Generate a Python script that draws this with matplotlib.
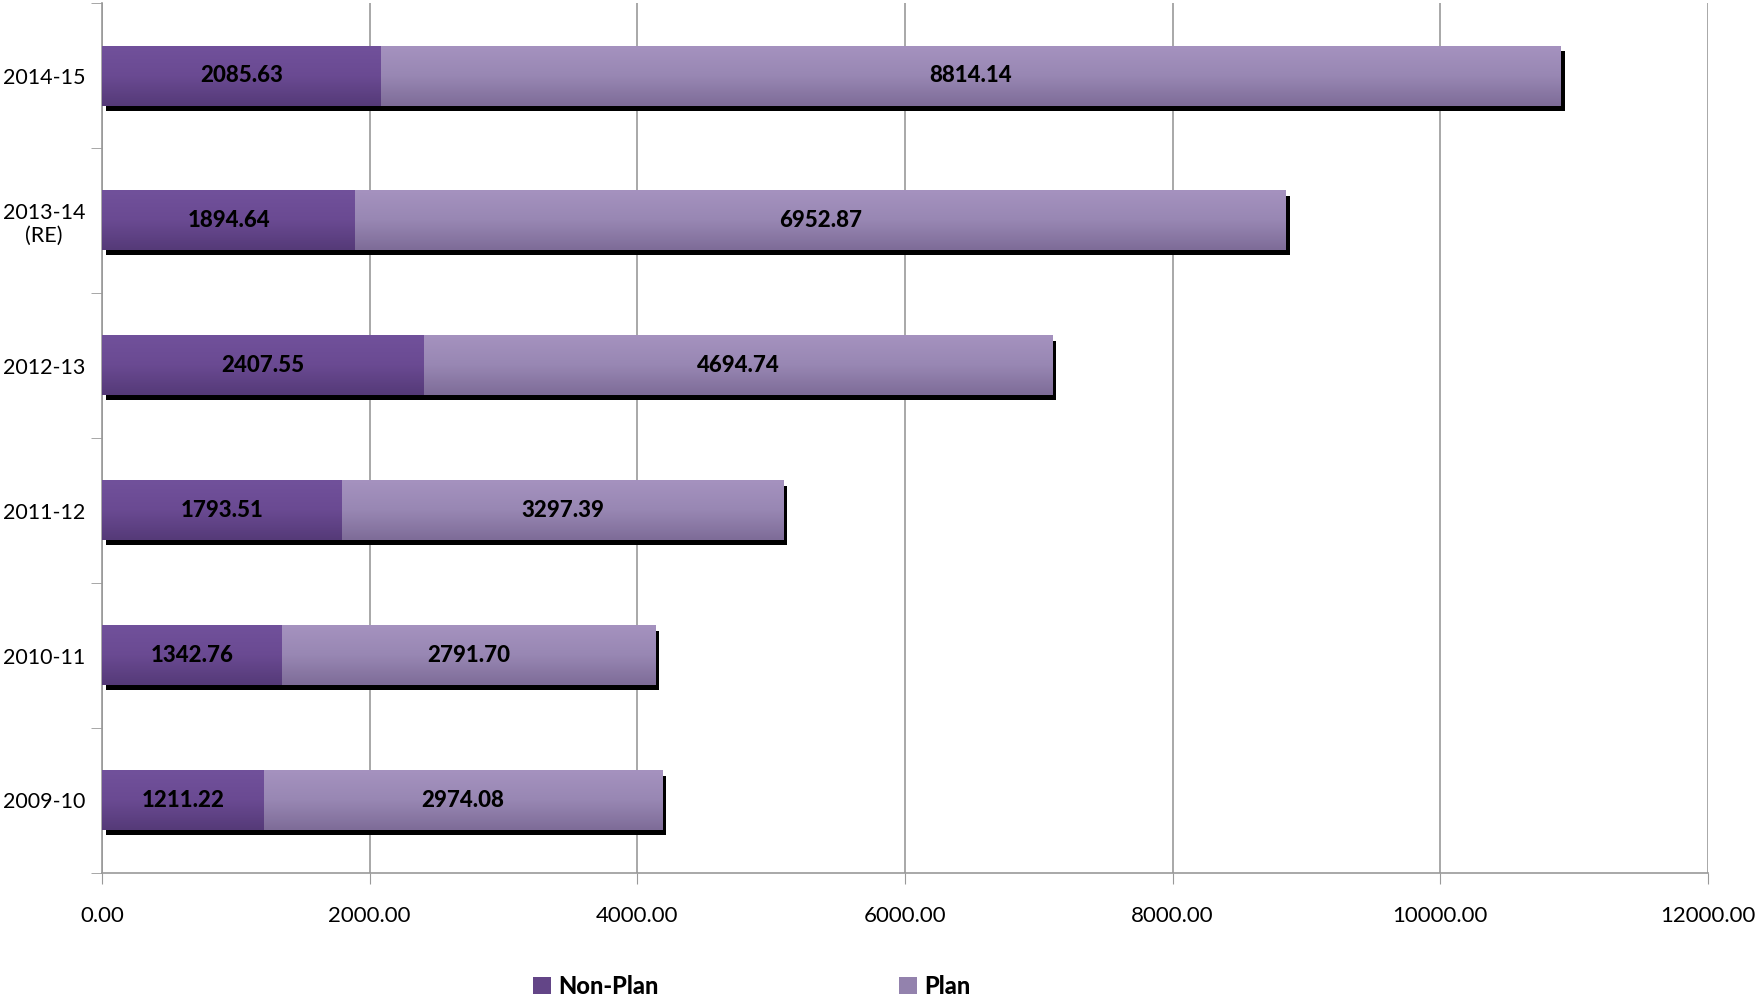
import matplotlib
matplotlib.use("Agg")
import matplotlib.pyplot as plt
import matplotlib.transforms as mtransforms
from matplotlib.colors import LinearSegmentedColormap
from matplotlib.patches import Patch
import numpy as np

years = ['2009-10', '2010-11', '2011-12', '2012-13', '2013-14\n(RE)', '2014-15']
non_plan = [1211.22, 1342.76, 1793.51, 2407.55, 1894.64, 2085.63]
plan = [2974.08, 2791.70, 3297.39, 4694.74, 6952.87, 8814.14]

plt.rcParams['font.family'] = ['Lato', 'DejaVu Sans']

fig = plt.figure(figsize=(17.56, 9.98), dpi=100)
ax = fig.add_axes([0.058, 0.1253, 0.9147, 0.8713])

y = np.arange(len(years))
h = 0.41
total = np.array(non_plan) + np.array(plan)

# black drop shadow behind each full bar
shadow_tr = ax.transData + mtransforms.ScaledTranslation(4 / 100, -5 / 100, fig.dpi_scale_trans)
ax.barh(y, total, height=h, color='black', transform=shadow_tr, zorder=2)

cm_np = LinearSegmentedColormap.from_list('np', ['#553a78', '#6a4a92', '#71519b'])
cm_p = LinearSegmentedColormap.from_list('p', ['#7e6c98', '#9887b3', '#a592bf'])
grad = np.linspace(0, 1, 64).reshape(-1, 1)

for yi, a, b in zip(y, non_plan, plan):
    ax.imshow(grad, cmap=cm_np, origin='lower', aspect='auto',
              extent=(0, a, yi - h / 2, yi + h / 2), zorder=3)
    ax.imshow(grad, cmap=cm_p, origin='lower', aspect='auto',
              extent=(a, a + b, yi - h / 2, yi + h / 2), zorder=3)
    ax.text(a / 2, yi, f'{a:.2f}', ha='center', va='center',
            fontsize=16, fontweight='black', color='black', zorder=4)
    ax.text(a + b / 2, yi, f'{b:.2f}', ha='center', va='center',
            fontsize=16, fontweight='black', color='black', zorder=4)

ax.set_xlim(0, 12000)
ax.set_ylim(-0.5, len(years) - 0.5)
ax.set_xticks(np.arange(0, 12001, 2000))
ax.set_xticklabels([f'{v:.2f}' for v in np.arange(0, 12001, 2000)], fontsize=16)
ax.set_yticks(y)
ax.set_yticklabels(years, fontsize=15.5, multialignment='center')
ax.set_yticks(np.arange(-0.5, len(years), 1), minor=True)

ax.tick_params(axis='y', which='major', length=0, pad=12)
ax.tick_params(axis='y', which='minor', length=8, color='#999999', direction='out')
ax.tick_params(axis='x', length=8, color='#999999', direction='out', pad=16)

ax.grid(axis='x', color='#999999', linewidth=1.2, zorder=0)
ax.set_axisbelow(True)
for s in ['top', 'right']:
    ax.spines[s].set_visible(False)
ax.spines['left'].set_color('#999999')
ax.spines['bottom'].set_color('#999999')
ax.spines['left'].set_linewidth(1.2)
ax.spines['bottom'].set_linewidth(1.2)

handles = [Patch(facecolor='#634587', label='Non-Plan'),
           Patch(facecolor='#9382ad', label='Plan')]
fig.legend(handles=handles, loc='center', bbox_to_anchor=(0.428, 0.012), ncol=2,
           frameon=False, prop={'size': 17, 'weight': 'black'},
           handlelength=0.75, handleheight=0.75, handletextpad=0.3,
           columnspacing=10.2)

plt.savefig('out.png', dpi=100)
plt.close()
